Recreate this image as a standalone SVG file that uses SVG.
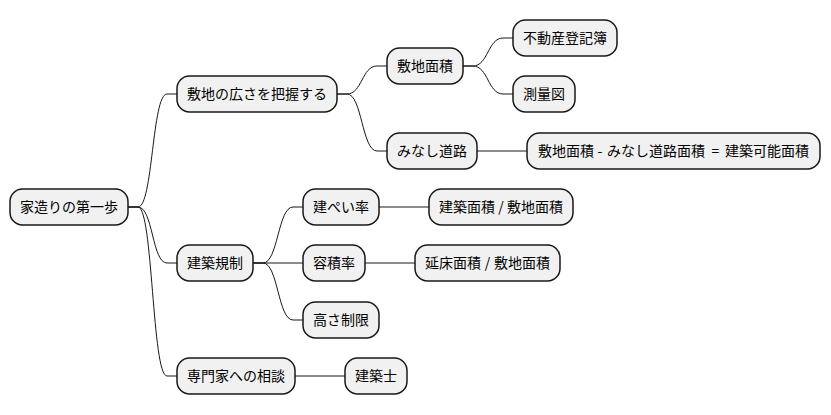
<svg xmlns="http://www.w3.org/2000/svg" width="831" height="415" viewBox="0 0 831 415">
<style>
.n rect{fill:#F1F1F1;stroke:#181818;stroke-width:1.5}
.n text{font-family:"Noto Sans CJK JP","Noto Sans",sans-serif;font-size:14px;fill:#000;text-anchor:middle}
.n text.l{text-anchor:start}
.n tspan.c{text-anchor:middle}
#edges path{fill:none;stroke:#181818;stroke-width:1}
</style>
<rect width="831" height="415" fill="#FFFFFF"/>
<g id="edges">
<path d="M128,207 L138,207 C153,207 152,94 167,94 L177,94"/>
<path d="M128,207 L138,207 C153,207 152,263 167,263 L177,263"/>
<path d="M128,207 L138,207 C153,207 152,376 167,376 L177,376"/>
<path d="M337,94 L347,94 C362,94 362,66 377,66 L387,66"/>
<path d="M337,94 L347,94 C362,94 362,151 377,151 L387,151"/>
<path d="M253,263 L263,263 C278,263 278,207 293,207 L303,207"/>
<path d="M253,263 L303,263"/>
<path d="M253,263 L263,263 C278,263 278,320 293,320 L303,320"/>
<path d="M295,376 L345,376"/>
<path d="M463,66 L473,66 C488,66 488,38 503,38 L513,38"/>
<path d="M463,66 L473,66 C488,66 488,94 503,94 L513,94"/>
<path d="M477,151 L527,151"/>
<path d="M379,207 L429,207"/>
<path d="M365,263 L415,263"/>
</g>
<g id="root" class="n"><rect x="10" y="189" width="118" height="36" rx="12.5"/><text x="69" y="212">家造りの第一歩</text></g>
<g id="n1" class="n"><rect x="177" y="76" width="160" height="36" rx="12.5"/><text x="257" y="99">敷地の広さを把握する</text></g>
<g id="n2" class="n"><rect x="177" y="245" width="76" height="36" rx="12.5"/><text x="215" y="268">建築規制</text></g>
<g id="n3" class="n"><rect x="177" y="358" width="118" height="36" rx="12.5"/><text x="236" y="381">専門家への相談</text></g>
<g id="n11" class="n"><rect x="387" y="48" width="76" height="36" rx="12.5"/><text x="425" y="71">敷地面積</text></g>
<g id="n12" class="n"><rect x="387" y="133" width="90" height="36" rx="12.5"/><text x="432" y="156">みなし道路</text></g>
<g id="n21" class="n"><rect x="303" y="189" width="76" height="36" rx="12.5"/><text x="341" y="212">建ぺい率</text></g>
<g id="n22" class="n"><rect x="303" y="245" width="62" height="36" rx="12.5"/><text x="334" y="268">容積率</text></g>
<g id="n23" class="n"><rect x="303" y="302" width="76" height="36" rx="12.5"/><text x="341" y="325">高さ制限</text></g>
<g id="n31" class="n"><rect x="345" y="358" width="62" height="36" rx="12.5"/><text x="376" y="381">建築士</text></g>
<g id="n111" class="n"><rect x="513" y="20" width="104" height="36" rx="12.5"/><text x="565" y="43">不動産登記簿</text></g>
<g id="n112" class="n"><rect x="513" y="76" width="62" height="36" rx="12.5"/><text x="544" y="99">測量図</text></g>
<g id="n121" class="n"><rect x="527" y="133" width="293" height="36" rx="12.5"/><text class="l" y="156"><tspan x="538">敷地面積</tspan><tspan class="c" x="600">-</tspan><tspan x="607">みなし道路面積</tspan><tspan class="c" x="715.5">=</tspan><tspan x="725">建築可能面積</tspan></text></g>
<g id="n211" class="n"><rect x="429" y="189" width="144" height="36" rx="12.5"/><text class="l" y="212"><tspan x="439">建築面積</tspan><tspan class="c" x="501">/</tspan><tspan x="507">敷地面積</tspan></text></g>
<g id="n221" class="n"><rect x="415" y="245" width="145" height="36" rx="12.5"/><text class="l" y="268"><tspan x="425">延床面積</tspan><tspan class="c" x="487.5">/</tspan><tspan x="494">敷地面積</tspan></text></g>
</svg>
